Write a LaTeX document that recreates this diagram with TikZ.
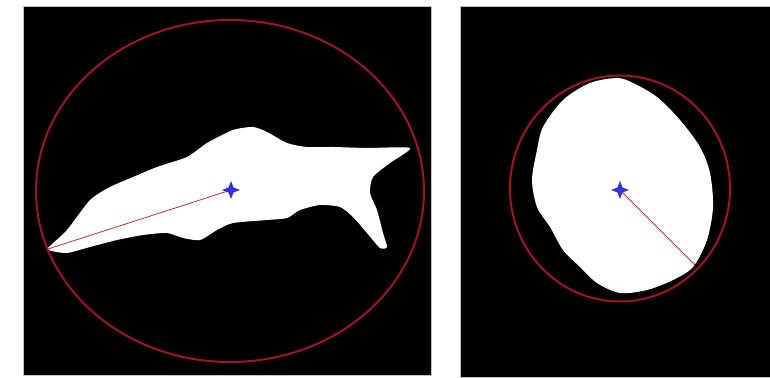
\documentclass[tikz,border=0pt]{standalone}
\begin{document}
\begin{tikzpicture}[x=1pt,y=-1pt,
  panel/.style={fill=black,draw=gray!50,line width=0.6pt},
  blob/.style={fill=white,draw=none},
  encl/.style={draw={rgb,255:red,160;green,20;blue,35},line width=2pt},
  radius line/.style={draw={rgb,255:red,210;green,40;blue,50},line width=0.8pt},
  star/.style={fill={rgb,255:red,50;green,50;blue,220}}]
\useasboundingbox (0,0) rectangle (770,377);
\fill[white] (0,0) rectangle (770,377);
% left panel
\draw[panel] (23,6) rectangle (431,375);
\fill[blob] plot[smooth cycle,tension=0.4] coordinates {
 (48,248) (67,230) (90,200) (110,187) (133,177) (157,167) (187,157) (207,143)
 (233,130) (253,127) (267,132) (287,143) (307,147) (333,147) (367,148) (410,148)
 (390,163) (373,177) (370,193) (377,210) (383,233) (387,247) (380,248) (367,233)
 (353,217) (340,207) (320,205) (300,210) (287,218) (267,220) (233,223) (217,230)
 (200,240) (183,238) (167,233) (143,235) (117,240) (90,247) (67,253) (52,251)};
\draw[encl] (230,191) ellipse [x radius=194, y radius=171];
\coordinate (cL) at (231,190);
\coordinate (pL) at (48,249);
\draw[radius line] (pL) -- (cL);
\fill[star] (cL) +(0,-9) -- +(2.5,-2.5) -- +(9,0) -- +(2.5,2.5) -- +(0,9) -- +(-2.5,2.5) -- +(-9,0) -- +(-2.5,-2.5) -- cycle;
% right panel
\draw[panel] (460,6) rectangle (770,377);
\fill[blob] plot[smooth cycle,tension=0.5] coordinates {
 (617,78) (590,83) (563,100) (543,127) (537,150) (532,180) (537,207) (550,227)
 (563,250) (580,267) (597,283) (620,293) (647,290) (673,280) (693,267) (707,240)
 (713,207) (710,173) (700,147) (680,120) (657,97) (633,83)};
\draw[encl] (620,188.5) ellipse [x radius=110, y radius=113];
\coordinate (cR) at (620,190);
\coordinate (pR) at (695,265);
\draw[radius line] (cR) -- (pR);
\fill[star] (cR) +(0,-9) -- +(2.5,-2.5) -- +(9,0) -- +(2.5,2.5) -- +(0,9) -- +(-2.5,2.5) -- +(-9,0) -- +(-2.5,-2.5) -- cycle;
\end{tikzpicture}
\end{document}
